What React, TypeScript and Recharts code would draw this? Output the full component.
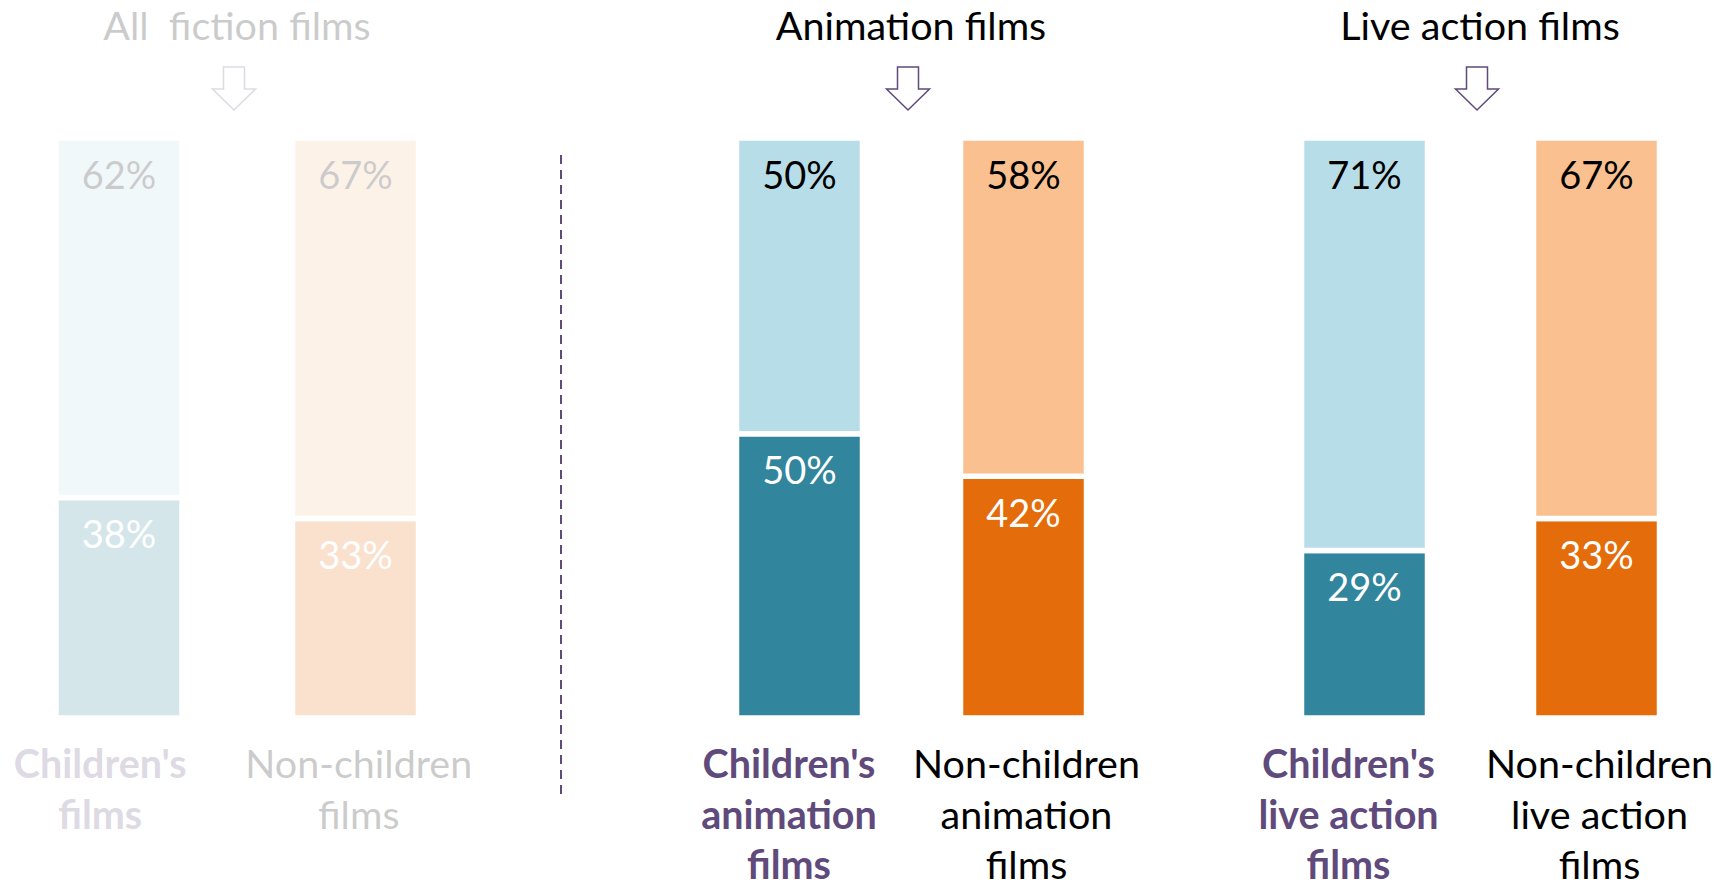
import React from 'react';
import { BarChart, Bar, XAxis, YAxis, LabelList, Cell } from 'recharts';

// group titles
const groupTitles = ['All  fiction films', 'Animation films', 'Live action films'];

// categories (line breaks are part of the tick label)
const allCategories = ["Children's\nfilms", 'Non-children\nfilms'];
const animationCategories = ["Children's\nanimation\nfilms", 'Non-children\nanimation\nfilms'];
const liveCategories = ["Children's\nlive action\nfilms", 'Non-children\nlive action\nfilms'];

// segment heights as drawn, % (bottom = dark segment, top = light segment)
const allBottom = [38, 34.4];
const allTop = [62, 65.6];
const animationBottom = [49, 41.7];
const animationTop = [51, 58.3];
const liveBottom = [28.9, 34.4];
const liveTop = [71.1, 65.6];

// printed labels
const allBottomLabels = ['38%', '33%'];
const allTopLabels = ['62%', '67%'];
const animationBottomLabels = ['50%', '42%'];
const animationTopLabels = ['50%', '58%'];
const liveBottomLabels = ['29%', '33%'];
const liveTopLabels = ['71%', '67%'];

const FONT = 'Lato, "Open Sans", sans-serif';
const PURPLE = '#604A7B';
const darkColors = ['#31859C', '#E46C0A'];
const lightColors = ['#B7DEE8', '#FAC090'];

const W = 1731;
const H = 886;
const TOP = 138;
const BOTTOM = 718;

type Row = { name: string; bottom: number; top: number; bottomLabel: string; topLabel: string };

const buildData = (
  cats: string[],
  bottom: number[],
  top: number[],
  bottomLabels: string[],
  topLabels: string[]
): Row[] =>
  cats.map((c, i) => ({
    name: c,
    bottom: bottom[i],
    top: top[i],
    bottomLabel: bottomLabels[i],
    topLabel: topLabels[i],
  }));

const makeTick = (kidsShift: number) => (props: any) => {
  const { x, y, payload, index } = props;
  const lines: string[] = String(payload.value).split('\n');
  const kids = index === 0;
  const tx = Number(x) + (kids ? kidsShift : 3);
  return (
    <text
      x={tx}
      y={y}
      textAnchor="middle"
      fontFamily={FONT}
      fontSize={39.5}
      fontWeight={kids ? 700 : 400}
      fill={kids ? PURPLE : '#000'}
    >
      {lines.map((l, i) => (
        <tspan key={i} x={tx} dy={i === 0 ? 60 : 50.5}>
          {l}
        </tspan>
      ))}
    </text>
  );
};

const insideLabel = (color: string) => (props: any) => {
  const { x, y, width, value } = props;
  return (
    <text
      x={Number(x) + Number(width) / 2}
      y={Number(y) + 50.5}
      textAnchor="middle"
      fontFamily={FONT}
      fontSize={38}
      fill={color}
    >
      {value}
    </text>
  );
};

interface PanelProps {
  title: string;
  data: Row[];
  left: number;
  width: number;
  marginLeft: number;
  plotWidth: number;
  kidsShift: number;
  faded?: boolean;
}

const Panel: React.FC<PanelProps> = ({ title, data, left, width, marginLeft, plotWidth, kidsShift, faded }) => {
  const cx = marginLeft + plotWidth / 2 - 3.5;
  return (
    <div style={{ position: 'absolute', left, top: 0, width, height: H, opacity: faded ? 0.2 : 1 }}>
      <BarChart
        width={width}
        height={H}
        data={data}
        margin={{ top: TOP, left: marginLeft, right: width - marginLeft - plotWidth, bottom: 0 }}
      >
        <XAxis
          dataKey="name"
          axisLine={false}
          tickLine={false}
          tickSize={0}
          tickMargin={0}
          height={H - BOTTOM}
          interval={0}
          tick={makeTick(kidsShift)}
        />
        <YAxis hide domain={[0, 100]} />
        <Bar dataKey="bottom" stackId="s" barSize={126} stroke="#fff" strokeWidth={5.5} isAnimationActive={false}>
          {data.map((_, i) => (
            <Cell key={i} fill={darkColors[i]} />
          ))}
          <LabelList dataKey="bottomLabel" content={insideLabel('#fff')} />
        </Bar>
        <Bar dataKey="top" stackId="s" barSize={126} stroke="#fff" strokeWidth={5.5} isAnimationActive={false}>
          {data.map((_, i) => (
            <Cell key={i} fill={lightColors[i]} />
          ))}
          <LabelList dataKey="topLabel" content={insideLabel('#000')} />
        </Bar>
      </BarChart>
      <svg
        width={width}
        height={130}
        style={{ position: 'absolute', left: 0, top: 0, pointerEvents: 'none' }}
      >
        <text
          x={cx + 3}
          y={40}
          textAnchor="middle"
          fontFamily={FONT}
          fontSize={39.5}
          fill="#000"
          style={{ whiteSpace: 'pre' }}
        >
          {title}
        </text>
        <path
          d={`M${cx - 10.5} 67 L${cx + 10.5} 67 L${cx + 10.5} 89 L${cx + 21.5} 89 L${cx} 110 L${cx - 21.5} 89 L${cx - 10.5} 89 Z`}
          fill="#fff"
          stroke={PURPLE}
          strokeWidth={1.5}
        />
      </svg>
    </div>
  );
};

export default function App() {
  return (
    <div style={{ position: 'absolute', left: 0, top: 0, width: W, height: H, background: '#fff', overflow: 'hidden' }}>
      <Panel
        title={groupTitles[0]}
        data={buildData(allCategories, allBottom, allTop, allBottomLabels, allTopLabels)}
        left={0}
        width={490}
        marginLeft={1}
        plotWidth={473}
        kidsShift={-19}
        faded
      />
      <svg width={W} height={H} style={{ position: 'absolute', left: 0, top: 0, pointerEvents: 'none' }}>
        <line x1={561} y1={155} x2={561} y2={800} stroke={PURPLE} strokeWidth={2} strokeDasharray="9 6" />
      </svg>
      <Panel
        title={groupTitles[1]}
        data={buildData(animationCategories, animationBottom, animationTop, animationBottomLabels, animationTopLabels)}
        left={640}
        width={540}
        marginLeft={47.5}
        plotWidth={448}
        kidsShift={-10.5}
      />
      <Panel
        title={groupTitles[2]}
        data={buildData(liveCategories, liveBottom, liveTop, liveBottomLabels, liveTopLabels)}
        left={1200}
        width={531}
        marginLeft={48.5}
        plotWidth={464}
        kidsShift={-16}
      />
    </div>
  );
}
